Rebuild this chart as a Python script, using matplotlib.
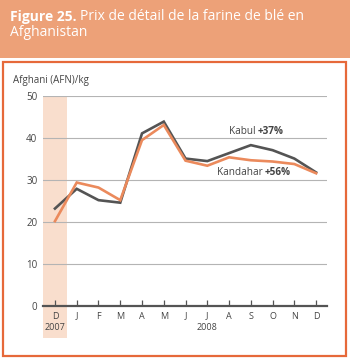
import numpy as np
import matplotlib
matplotlib.use('Agg')
from matplotlib import pyplot as plt
from matplotlib.patches import Rectangle

plt.rcParams['font.family'] = ['Open Sans', 'DejaVu Sans']

# data
months = ['D', 'J', 'F', 'M', 'A', 'M', 'J', 'J', 'A', 'S', 'O', 'N', 'D']
kabul = [23.2, 27.9, 25.2, 24.6, 41.1, 43.9, 35.1, 34.5, 36.4, 38.3, 37.1, 35.1, 31.8]
kandahar = [20.2, 29.4, 28.2, 25.2, 39.5, 43.1, 34.6, 33.4, 35.4, 34.7, 34.4, 33.8, 31.6]
years = ['2007', '2008']
year_pos = [0, 7]

header_col = '#EDA178'
frame_col = '#E6693A'
kabul_col = '#545454'
kand_col = '#EB8A5C'
shade_col = '#F9DECD'
text_col = '#444444'

W, H = 350, 358
fig = plt.figure(figsize=(W / 100, H / 100), dpi=100)

# header band and frame
fig.patches.append(Rectangle((0, 1 - 58 / H), 1, 58 / H, transform=fig.transFigure,
                             facecolor=header_col, edgecolor='none', zorder=0))
fig.patches.append(Rectangle((2.5 / W, 2 / H), 343.5 / W, (356 - 62) / H, transform=fig.transFigure,
                             facecolor='none', edgecolor=frame_col, linewidth=1.6, zorder=0))

renderer = fig.canvas.get_renderer()


def text_after(t, s, **kw):
    # put s just right of text t
    bb = t.get_window_extent(renderer)
    x0 = (bb.x1 + 3) / W
    return fig.text(x0, t.get_position()[1], s, **kw)


t1 = fig.text(10 / W, 1 - 17 / H, 'Figure 25.', color='white', fontsize=10, fontweight='bold',
              va='center', ha='left')
text_after(t1, 'Prix de détail de la farine de blé en', color='white', fontsize=10,
           va='center', ha='left')
fig.text(10 / W, 1 - 33 / H, 'Afghanistan', color='white', fontsize=10, va='center', ha='left')

fig.text(13 / W, 1 - 80 / H, 'Afghani (AFN)/kg', color=text_col, fontsize=7, va='center', ha='left')

ax = fig.add_axes([43 / W, (H - 306) / H, 284 / W, 210 / H])
x = np.arange(len(months))

ax.add_patch(Rectangle((-0.55, -7.6), 1.1, 57.6, facecolor=shade_col, edgecolor='none',
                       clip_on=False, zorder=0))

ax.plot(x, kabul, color=kabul_col, lw=1.9, zorder=3, solid_joinstyle='miter')
ax.plot(x, kandahar, color=kand_col, lw=1.9, zorder=3, solid_joinstyle='miter')

ax.set_xlim(-0.55, 12.5)
ax.set_ylim(0, 50)
ax.set_yticks(range(0, 51, 10))
ax.set_xticks(x)
ax.set_xticklabels(months)
ax.grid(axis='y', color='#B4B4B4', lw=0.8)
ax.set_axisbelow(True)
for s in ['top', 'right', 'left']:
    ax.spines[s].set_visible(False)
ax.spines['bottom'].set_color(kabul_col)
ax.spines['bottom'].set_linewidth(1.6)
ax.spines['bottom'].set_zorder(4)
ax.tick_params(axis='y', length=0, pad=4, labelsize=7, labelcolor=text_col)
ax.tick_params(axis='x', direction='in', length=4, width=0.9, color=kabul_col, pad=4,
               labelsize=6.5, labelcolor=text_col)
ax.patch.set_visible(False)

for lab, p in zip(years, year_pos):
    ax.text(p, -0.103, lab, transform=ax.get_xaxis_transform(), ha='center', va='center',
            fontsize=6.5, color=text_col)

ax.text(9.22, 41.5, 'Kabul', ha='right', va='center', fontsize=7.2, color=text_col)
ax.text(9.3, 41.5, '+37%', ha='left', va='center', fontsize=7.2, color=text_col, fontweight='bold')
ax.text(9.55, 31.7, 'Kandahar', ha='right', va='center', fontsize=7.2, color=text_col)
ax.text(9.63, 31.7, '+56%', ha='left', va='center', fontsize=7.2, color=text_col, fontweight='bold')

fig.savefig('out.png', dpi=100)
